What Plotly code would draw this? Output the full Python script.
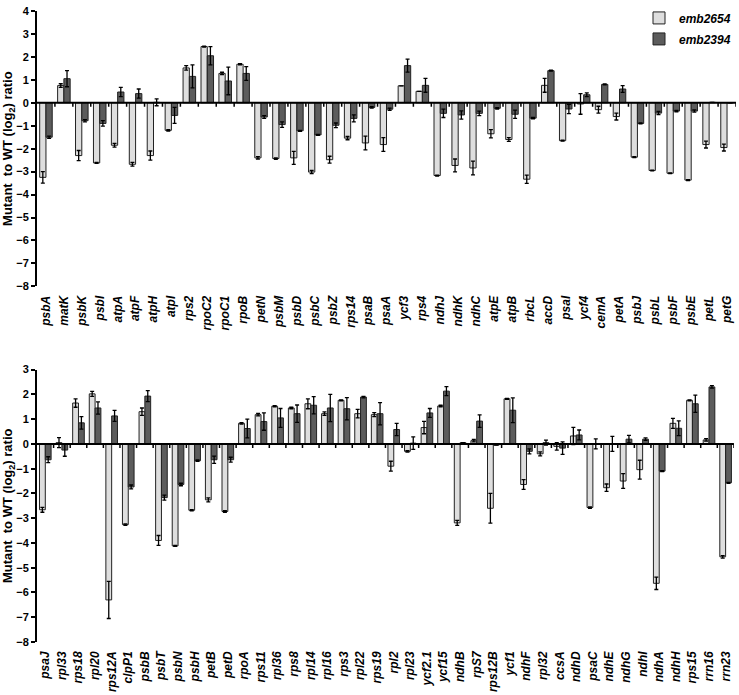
import plotly.graph_objects as go

# --- top panel -------------------------------------------------------------
top_genes = ["psbA", "matK", "psbK", "psbI", "atpA", "atpF", "atpH", "atpI", "rps2", "rpoC2",
             "rpoC1", "rpoB", "petN", "psbM", "psbD", "psbC", "psbZ", "rps14", "psaB", "psaA",
             "ycf3", "rps4", "ndhJ", "ndhK", "ndhC", "atpE", "atpB", "rbcL", "accD", "psaI",
             "ycf4", "cemA", "petA", "psbJ", "psbL", "psbF", "psbE", "petL", "petG"]
top_emb2654 = [-3.25, 0.75, -2.3, -2.62, -1.85, -2.68, -2.3, -1.2, 1.52, 2.45,
               1.28, 1.68, -2.4, -2.43, -2.4, -3.02, -2.48, -1.54, -1.75, -1.82,
               0.74, 0.5, -3.17, -2.73, -2.84, -1.35, -1.6, -3.33, 0.76, -1.65,
               -0.05, -0.3, -0.6, -2.37, -2.95, -3.07, -3.37, -1.82, -1.95]
top_emb2654_err = [0.25, 0.08, 0.22, 0.02, 0.08, 0.08, 0.2, 0.03, 0.1, 0.02,
                   0.05, 0.03, 0.05, 0.03, 0.28, 0.07, 0.15, 0.07, 0.3, 0.3,
                   0.0, 0.0, 0.02, 0.28, 0.3, 0.18, 0.08, 0.18, 0.3, 0.02,
                   0.45, 0.15, 0.15, 0.02, 0.02, 0.02, 0.02, 0.15, 0.15]
top_emb2394 = [-1.5, 1.05, -0.78, -0.9, 0.47, 0.4, 0.02, -0.55, 1.15, 2.05,
               0.95, 1.28, -0.62, -0.95, -1.22, -1.4, -0.98, -0.68, -0.2, -0.28,
               1.62, 0.76, -0.46, -0.53, -0.46, -0.24, -0.5, -0.67, 1.4, -0.27,
               0.35, 0.8, 0.6, -0.9, -0.45, -0.36, -0.36, 0.02, 0.0]
top_emb2394_err = [0.05, 0.35, 0.05, 0.12, 0.2, 0.2, 0.15, 0.35, 0.5, 0.4,
                   0.6, 0.3, 0.06, 0.12, 0.02, 0.02, 0.1, 0.15, 0.03, 0.05,
                   0.28, 0.3, 0.18, 0.18, 0.1, 0.03, 0.18, 0.03, 0.02, 0.2,
                   0.08, 0.02, 0.15, 0.02, 0.07, 0.03, 0.05, 0.0, 0.0]

# --- bottom panel ----------------------------------------------------------
bot_genes = ["psaJ", "rpl33", "rps18", "rpl20", "rps12A", "clpP1", "psbB", "psbT", "psbN", "psbH",
             "petB", "petD", "rpoA", "rps11", "rpl36", "rps8", "rpl14", "rpl16", "rps3", "rpl22",
             "rps19", "rpl2", "rpl23", "ycf2.1", "ycf15", "ndhB", "rpS7", "rps12B", "ycf1", "ndhF",
             "rpl32", "ccsA", "ndhD", "psaC", "ndhE", "ndhG", "ndhI", "ndhA", "ndhH", "rps15",
             "rrn16", "rrn23"]
bot_emb2654 = [-2.66, 0.05, 1.65, 2.02, -6.3, -3.26, 1.3, -3.9, -4.12, -2.68,
               -2.26, -2.73, 0.83, 1.18, 1.52, 1.45, 1.62, 1.22, 1.76, 1.22,
               1.18, -0.9, -0.3, 0.66, 1.53, -3.19, 0.13, -2.6, 1.82, -1.64,
               -0.4, -0.1, 0.32, -2.57, -1.77, -1.5, -1.04, -5.63, 0.83, 1.76,
               0.16, -4.56]
bot_emb2654_err = [0.1, 0.2, 0.17, 0.1, 0.75, 0.03, 0.15, 0.2, 0.02, 0.02,
                   0.08, 0.03, 0.03, 0.05, 0.02, 0.03, 0.2, 0.07, 0.02, 0.17,
                   0.08, 0.2, 0.03, 0.25, 0.03, 0.1, 0.05, 0.6, 0.02, 0.2,
                   0.08, 0.15, 0.35, 0.03, 0.15, 0.3, 0.38, 0.25, 0.2, 0.02,
                   0.05, 0.05]
bot_emb2394 = [-0.64, -0.25, 0.85, 1.45, 1.13, -1.74, 1.93, -2.17, -1.64, -0.68,
               -0.64, -0.64, 0.62, 0.9, 1.05, 1.22, 1.56, 1.45, 1.42, 1.89,
               1.22, 0.58, 0.03, 1.25, 2.13, 0.05, 0.92, -0.05, 1.36, -0.3,
               0.05, -0.17, 0.36, 0.0, 0.0, 0.19, 0.19, -1.1, 0.63, 1.62,
               2.3, -1.57]
bot_emb2394_err = [0.12, 0.25, 0.25, 0.25, 0.22, 0.08, 0.22, 0.1, 0.05, 0.03,
                   0.15, 0.1, 0.38, 0.35, 0.38, 0.35, 0.35, 0.55, 0.45, 0.03,
                   0.45, 0.25, 0.25, 0.18, 0.18, 0.0, 0.25, 0.0, 0.5, 0.1,
                   0.1, 0.25, 0.2, 0.2, 0.3, 0.15, 0.05, 0.02, 0.3, 0.35,
                   0.05, 0.02]

LIGHT = "#dedede"
DARK = "#5c5c5c"
FONT = "Liberation Sans, Arial, sans-serif"

fig = go.Figure()


def add_pair(genes, light, light_err, dark, dark_err, xa, ya, legend):
    err_style = dict(type="data", visible=True, color="black", thickness=1.3, width=2)
    fig.add_trace(go.Bar(
        x=genes, y=light, name="emb2654", marker_color=LIGHT,
        marker_line=dict(color="#222222", width=1),
        error_y=dict(array=light_err, **err_style),
        xaxis=xa, yaxis=ya, showlegend=legend, legendgroup="a"
    ))
    fig.add_trace(go.Bar(
        x=genes, y=dark, name="emb2394", marker_color=DARK,
        marker_line=dict(color="#222222", width=1),
        error_y=dict(array=dark_err, **err_style),
        xaxis=xa, yaxis=ya, showlegend=legend, legendgroup="b"
    ))


add_pair(top_genes, top_emb2654, top_emb2654_err, top_emb2394, top_emb2394_err, "x", "y", True)
add_pair(bot_genes, bot_emb2654, bot_emb2654_err, bot_emb2394, bot_emb2394_err, "x2", "y2", False)

# zero lines with small ticks between gene groups
shapes = []
for xref, yref, n in (("x", "y", len(top_genes)), ("x2", "y2", len(bot_genes))):
    shapes.append(dict(type="line", xref=xref + " domain", yref=yref, x0=0, x1=1, y0=0, y1=0,
                       line=dict(color="black", width=2)))
    for i in range(1, n + 1):
        shapes.append(dict(type="line", xref=xref, yref=yref, x0=i - 0.5, x1=i - 0.5,
                           ysizemode="pixel", yanchor=0, y0=0, y1=-4,
                           line=dict(color="black", width=1.5)))

xcommon = dict(showline=False, ticks="", tickangle=-90, showgrid=False, zeroline=False,
               tickfont=dict(family=FONT, size=12, color="black", style="italic", weight="bold"),
               ticklabelstandoff=6)
ycommon = dict(showline=True, linewidth=2, linecolor="black", ticks="outside", ticklen=4,
               tickwidth=1.5, tickcolor="black", showgrid=False, zeroline=False, dtick=1,
               tickfont=dict(family=FONT, size=11, color="black", weight="bold"),
               title=dict(text="Mutant  to WT (log<sub>2</sub>) ratio", standoff=4,
                          font=dict(family=FONT, size=13, color="black", weight="bold")))

fig.update_layout(
    width=739, height=695,
    margin=dict(l=35, r=3, t=5, b=53),
    paper_bgcolor="white", plot_bgcolor="white",
    barmode="group", bargap=0.3, bargroupgap=0,
    xaxis=dict(anchor="y", domain=[0, 1], range=[-0.5, len(top_genes) - 0.5], **xcommon),
    yaxis=dict(anchor="x", domain=[0.5636, 1], range=[-8, 4], **ycommon),
    xaxis2=dict(anchor="y2", domain=[0, 0.997], range=[-0.5, len(bot_genes) - 0.5], **xcommon),
    yaxis2=dict(anchor="x2", domain=[0, 0.4317], range=[-8, 3], **ycommon),
    shapes=shapes,
    legend=dict(x=1.0, y=1.012, xanchor="right", yanchor="top", bgcolor="rgba(0,0,0,0)",
                font=dict(family=FONT, size=12, color="black", style="italic", weight="bold"),
                tracegroupgap=2, itemwidth=30),
    showlegend=True,
)

fig.write_html("out.html", config={"displayModeBar": False},
               post_script="document.body.style.margin='0';")
